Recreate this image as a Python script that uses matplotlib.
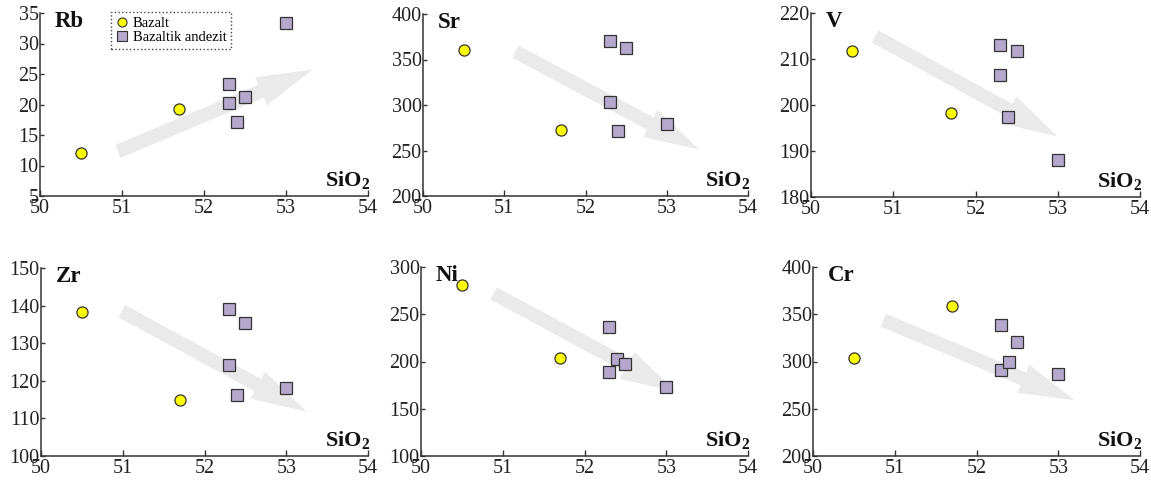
import matplotlib
matplotlib.use("Agg")
import matplotlib.pyplot as plt
from matplotlib.lines import Line2D

plt.rcParams['font.family'] = ['Liberation Serif', 'DejaVu Serif']
plt.rcParams['mathtext.fontset'] = 'custom'
plt.rcParams['mathtext.rm'] = 'Liberation Serif'
plt.rcParams['mathtext.bf'] = 'Liberation Serif:bold'

# ---- data ----
elements = ['Rb', 'Sr', 'V', 'Zr', 'Ni', 'Cr']
sio2_bazalt = [50.5, 51.7]
sio2_andezit = [52.3, 52.3, 52.4, 52.5, 53.0]

rb_bazalt = [12.1, 19.2]
rb_andezit = [23.3, 20.2, 17.2, 21.3, 33.4]
sr_bazalt = [360, 272]
sr_andezit = [370, 303, 271, 363, 279]
v_bazalt = [211.8, 198.3]
v_andezit = [213, 206.5, 197.5, 211.8, 188]
zr_bazalt = [138.2, 115]
zr_andezit = [139.2, 124.2, 116.2, 135.3, 118.2]
ni_bazalt = [281, 204]
ni_andezit = [236, 189, 203, 197, 173]
cr_bazalt = [303.5, 358.5]
cr_andezit = [339, 291, 299, 321, 287]

bazalt_vals = [rb_bazalt, sr_bazalt, v_bazalt, zr_bazalt, ni_bazalt, cr_bazalt]
andezit_vals = [rb_andezit, sr_andezit, v_andezit, zr_andezit, ni_andezit, cr_andezit]

x_ticks = [50, 51, 52, 53, 54]
y_ticks = [
    [5, 10, 15, 20, 25, 30, 35],
    [200, 250, 300, 350, 400],
    [180, 190, 200, 210, 220],
    [100, 110, 120, 130, 140, 150],
    [100, 150, 200, 250, 300],
    [200, 250, 300, 350, 400],
]

# trend arrows (start -> end in data coords)
arrow_start = [(50.95, 12.3), (51.14, 358.6), (50.78, 214.9),
               (50.99, 138.5), (50.89, 272), (50.86, 343.7)]
arrow_end = [(53.32, 25.7), (53.4, 251), (53.0, 193.1),
             (53.25, 111.8), (53.12, 168), (53.2, 259)]

legend_labels = ['Bazalt', 'Bazaltik andezit']

# ---- layout (pixels: left, right, top, bottom) ----
W, H = 1151, 484
boxes = [
    (40, 368, 13, 196),
    (423, 748, 14, 196),
    (811, 1140, 13, 197),
    (41, 368, 268, 456),
    (421, 748, 267, 456),
    (813, 1140, 267, 456),
]

fig = plt.figure(figsize=(W / 100, H / 100), dpi=100)

spine_col = '#333333'
yellow = '#ffff00'
lav = '#b4a8cc'

for i, el in enumerate(elements):
    l, r, t, b = boxes[i]
    ax = fig.add_axes([l / W, (H - b) / H, (r - l) / W, (b - t) / H])
    yt = y_ticks[i]
    ax.set_xlim(x_ticks[0], x_ticks[-1])
    ax.set_ylim(yt[0], yt[-1])
    ax.set_xticks(x_ticks)
    ax.set_yticks(yt)
    for s in ['top', 'right']:
        ax.spines[s].set_visible(False)
    for s in ['left', 'bottom']:
        ax.spines[s].set_color(spine_col)
        ax.spines[s].set_linewidth(1.1)
    ax.tick_params(axis='both', direction='in', labelsize=14.5, colors=spine_col,
                   labelcolor='#222222', width=1.0)
    ax.tick_params(axis='x', length=4, pad=2)
    ax.tick_params(axis='y', length=3, pad=1)

    # trend arrow
    ax.annotate('', xy=arrow_end[i], xytext=arrow_start[i],
                arrowprops=dict(arrowstyle='simple,head_length=2.0,head_width=1.1,tail_width=0.5',
                                mutation_scale=20, fc='#eaeaea', ec='none',
                                shrinkA=0, shrinkB=0),
                zorder=1)

    ax.plot(sio2_bazalt, bazalt_vals[i], linestyle='none', marker='o', markersize=8,
            markerfacecolor=yellow, markeredgecolor='#333333', markeredgewidth=0.9,
            zorder=3, clip_on=False)
    ax.plot(sio2_andezit, andezit_vals[i], linestyle='none', marker='s', markersize=8,
            markerfacecolor=lav, markeredgecolor='#333333', markeredgewidth=0.9,
            zorder=3, clip_on=False)

    ax.text(0.045, 1.01, el, transform=ax.transAxes, ha='left', va='top',
            fontsize=16.5, fontweight='bold', color='#111111')
    ax.text(1.005, 0.025, r'$\mathbf{SiO_2}$', transform=ax.transAxes, ha='right',
            va='bottom', fontsize=16, color='#111111')

    if i == 0:
        handles = [
            Line2D([], [], linestyle='none', marker='o', markersize=6.5,
                   markerfacecolor=yellow, markeredgecolor='#333333', markeredgewidth=0.8),
            Line2D([], [], linestyle='none', marker='s', markersize=6.5,
                   markerfacecolor=lav, markeredgecolor='#333333', markeredgewidth=0.8),
        ]
        leg = ax.legend(handles, legend_labels, loc='upper left',
                        bbox_to_anchor=(0.216, 1.005), borderaxespad=0,
                        fontsize=10.5, handlelength=0.9, handletextpad=0.3,
                        labelspacing=0.1, borderpad=0.3, fancybox=False,
                        framealpha=1, edgecolor='#444444')
        leg.get_frame().set_linestyle(':')
        leg.get_frame().set_linewidth(1.0)

fig.savefig('out.png', dpi=100)
